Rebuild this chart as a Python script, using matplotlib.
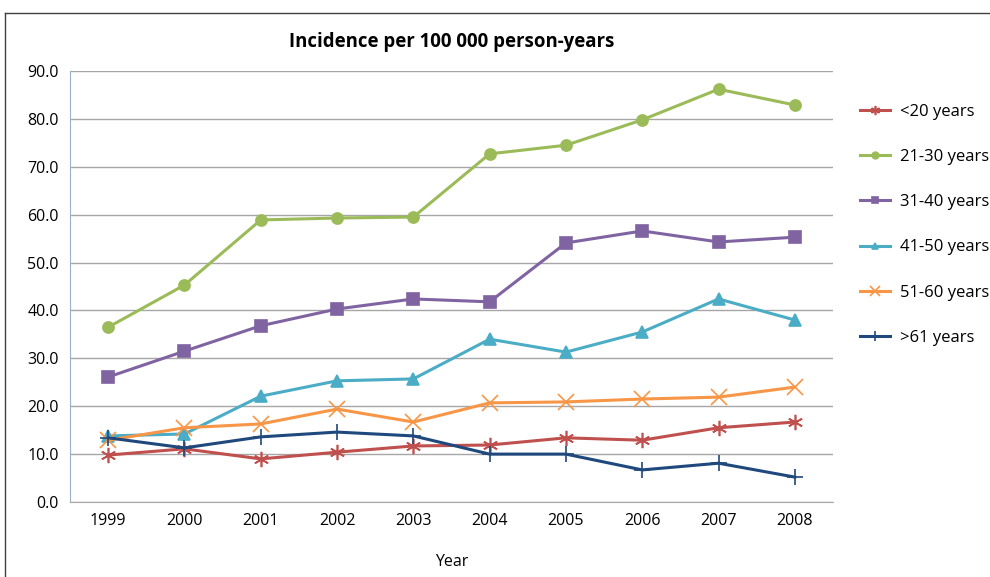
import matplotlib.pyplot as plt
from matplotlib.lines import Line2D

plt.rcParams['font.family'] = ['Open Sans', 'DejaVu Sans']

years = ['1999', '2000', '2001', '2002', '2003', '2004', '2005', '2006', '2007', '2008']
labels = ['<20 years', '21-30 years', '31-40 years', '41-50 years', '51-60 years', '>61 years']

under20 = [9.8, 11.1, 9.0, 10.4, 11.7, 11.9, 13.4, 12.9, 15.5, 16.7]
y21_30 = [36.5, 45.3, 58.9, 59.3, 59.5, 72.7, 74.5, 79.8, 86.2, 82.9]
y31_40 = [26.1, 31.5, 36.8, 40.3, 42.4, 41.8, 54.1, 56.6, 54.3, 55.3]
y41_50 = [13.8, 14.2, 22.1, 25.3, 25.7, 34.0, 31.3, 35.5, 42.4, 38.0]
y51_60 = [12.9, 15.5, 16.3, 19.4, 16.7, 20.7, 20.9, 21.5, 21.9, 24.0]
over61 = [13.4, 11.3, 13.6, 14.6, 13.8, 10.0, 10.0, 6.7, 8.1, 5.2]

series = [under20, y21_30, y31_40, y41_50, y51_60, over61]
colors = ['#C0504D', '#9BBB59', '#8064A2', '#4BACC6', '#F79646', '#1F497D']
markers = [(6, 2, 0), 'o', 's', '^', 'x', '+']
msizes = [11, 8, 8, 8, 11, 12]

fig = plt.figure(figsize=(9.9, 5.77), dpi=100)
ax = fig.add_axes([70/990, 1 - 502/577, (833 - 70)/990, (502 - 71)/577])

x = list(range(len(years)))
for vals, lab, c, m, ms in zip(series, labels, colors, markers, msizes):
    ax.plot(x, vals, color=c, marker=m, markersize=ms, linewidth=2.2,
            markeredgewidth=1.2, label=lab, zorder=3)

ax.set_xlim(-0.5, 9.5)
ax.set_ylim(0, 90)
ax.set_yticks(range(0, 91, 10))
ax.set_yticklabels(['%.1f' % v for v in range(0, 91, 10)], fontsize=11.5)
ax.set_xticks(x)
ax.set_xticklabels(years, fontsize=11.5)
ax.tick_params(length=0, pad=8)
ax.yaxis.grid(True, color='#A6A6A6', linewidth=1)
ax.set_axisbelow(True)
for s in ['top', 'right']:
    ax.spines[s].set_visible(False)
ax.spines['left'].set_color('#9BB0CC')
ax.spines['bottom'].set_color('#A6A6A6')

ax.set_xlabel('Year', fontsize=11.5, labelpad=18)
fig.text(452/990, 1 - 42/577, 'Incidence per 100 000 person-years', ha='center', va='center',
         fontsize=13.4, fontweight='bold')

leg = ax.legend(loc='upper left', bbox_to_anchor=(845/990, 1 - 89/577), bbox_transform=fig.transFigure,
                frameon=False, fontsize=12, labelspacing=1.75, handlelength=1.8,
                handletextpad=0.6, markerscale=0.6)

# outer chart border
fig.add_artist(Line2D([5/990, 5/990], [0, 1 - 13/577], transform=fig.transFigure, color='#404040', linewidth=1))
fig.add_artist(Line2D([5/990, 1], [1 - 13/577, 1 - 13/577], transform=fig.transFigure, color='#404040', linewidth=1))

fig.savefig('out.png', dpi=100)
